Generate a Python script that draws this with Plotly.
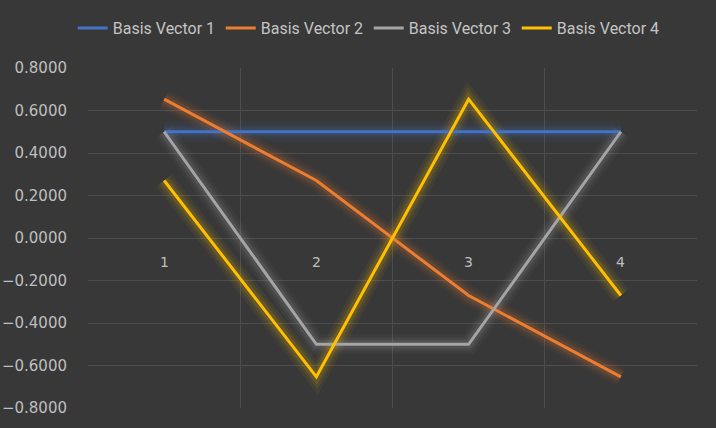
import plotly.graph_objects as go

categories = [1, 2, 3, 4]
series_names = ["Basis Vector 1", "Basis Vector 2", "Basis Vector 3", "Basis Vector 4"]
v1 = [0.5, 0.5, 0.5, 0.5]
v2 = [0.6533, 0.2706, -0.2706, -0.6533]
v3 = [0.5, -0.5, -0.5, 0.5]
v4 = [0.2706, -0.6533, 0.6533, -0.2706]
series_values = [v1, v2, v3, v4]
colors = [(68, 114, 196), (237, 125, 49), (165, 165, 165), (255, 192, 0)]
y_ticks = [-0.8, -0.6, -0.4, -0.2, 0.0, 0.2, 0.4, 0.6, 0.8]

fig = go.Figure()
# glow layers
for vals, (r, g, b) in zip(series_values, colors):
    for w, a in [(20, 0.05), (14, 0.08), (9, 0.12)]:
        fig.add_trace(go.Scatter(x=categories, y=vals, mode="lines",
                                 line=dict(color=f"rgba({r},{g},{b},{a})", width=w),
                                 showlegend=False, hoverinfo="skip"))
for name, vals, (r, g, b) in zip(series_names, series_values, colors):
    fig.add_trace(go.Scatter(x=categories, y=vals, mode="lines", name=name,
                             line=dict(color=f"rgb({r},{g},{b})", width=3)))

for c in categories:
    fig.add_annotation(x=c, y=0, xref="x", yref="y", text=str(c), showarrow=False,
                       yshift=-24, font=dict(size=14, color="#bfbfbf", family="DejaVu Sans"))

grid = "#4d4d4d"
fig.update_layout(
    width=716, height=428,
    paper_bgcolor="#383838", plot_bgcolor="#383838",
    margin=dict(l=88, r=19, t=68, b=20, autoexpand=False),
    font=dict(family="DejaVu Sans", color="#bfbfbf", size=14),
    legend=dict(orientation="h", x=0.515, xref="container", xanchor="center",
                y=(428 - 20 - 28) / 340, yref="paper", yanchor="middle",
                font=dict(family="Roboto", size=16, color="#c4c4c4"),
                itemwidth=30, entrywidth=103, entrywidthmode="pixels",
                tracegroupgap=0, bgcolor="rgba(0,0,0,0)"),
    xaxis=dict(range=[0.5, 4.5], tickvals=[0.5, 1.5, 2.5, 3.5, 4.5], showticklabels=False,
               showgrid=True, gridcolor=grid, gridwidth=1, zeroline=False, showline=False),
    yaxis=dict(range=[-0.8, 0.8], tickvals=y_ticks, tickformat=".4f", showgrid=True,
               gridcolor=grid, gridwidth=1, zeroline=True, zerolinecolor=grid, zerolinewidth=1,
               showline=False, ticklabelstandoff=20, tickfont=dict(size=15, color="#bfbfbf")),
)
fig.write_html("out.html", config={"displayModeBar": False},
               post_script="document.body.style.margin='0';")
